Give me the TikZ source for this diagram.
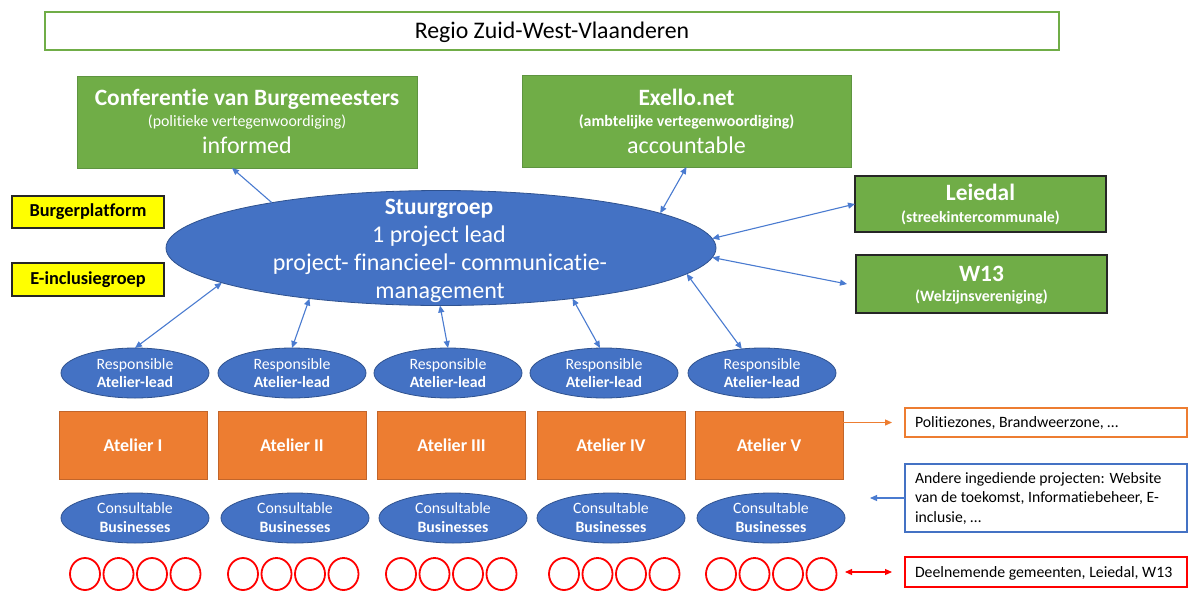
\documentclass[tikz,border=0pt]{standalone}
\usepackage{fontspec}
\setmainfont{Carlito}[Ligatures=NoCommon]
\usetikzlibrary{arrows.meta,shapes.geometric}
\definecolor{ogreen}{HTML}{70AD47}
\definecolor{ogreenD}{HTML}{5E9440}
\definecolor{oblue}{HTML}{4472C4}
\definecolor{oblueD}{HTML}{2F528F}
\definecolor{oarrow}{HTML}{4A7BD0}
\definecolor{oorange}{HTML}{ED7D31}
\definecolor{oorangeD}{HTML}{C2652A}
\definecolor{ored}{HTML}{FF0000}
\definecolor{oyellow}{HTML}{FFFF00}
\newcommand{\fsz}[1]{\fontsize{#1}{#1}\selectfont}
\begin{document}
\begin{tikzpicture}[x=1pt,y=-1pt,
  >={Triangle[length=7pt,width=6pt]},
  box/.style={rectangle, inner sep=0pt, outer sep=0pt},
  gbox/.style={box, fill=ogreen, draw=ogreenD, line width=0.8pt},
  dbox/.style={box, fill=ogreen, draw=black!85, line width=1.3pt},
  ybox/.style={box, fill=oyellow, draw=black!85, line width=1.3pt, font=\fsz{18.3}\bfseries},
  abox/.style={box, fill=oorange, draw=oorangeD, line width=0.8pt, minimum width=148pt, minimum height=68pt, text=white, font=\fsz{18}\bfseries},
  ell/.style={ellipse, inner sep=0pt, outer sep=0pt, fill=oblue, draw=oblueD, line width=0.8pt},
  smell/.style={ell, minimum width=148pt, minimum height=50pt},
  rbox/.style={box, fill=white, line width=1.8pt, minimum width=282pt, text=black},
  txt/.style={inner sep=0pt, outer sep=0pt, anchor=base},
  wtxt/.style={txt, text=white},
  circ/.style={ellipse, draw=ored, line width=1.8pt, minimum width=30pt, minimum height=32pt, inner sep=0pt},
  conn/.style={draw=oarrow, line width=1.1pt},
]
\useasboundingbox (0,0) rectangle (1191,592);

% region box
\node[box, draw=ogreen, line width=2pt, fill=white, minimum width=1014pt, minimum height=38pt] (region) at (552,31) {};
\node[txt, font=\fsz{23.8}] (regiont) at (552,38.5) {Regio Zuid-West-Vlaanderen};

% Conferentie
\node[gbox, minimum width=340pt, minimum height=92pt] (cb) at (247,122) {};
\node[wtxt, font=\fsz{23.4}\bfseries] (cbt1) at (247,105) {Conferentie van Burgemeesters};
\node[wtxt, font=\fsz{15.9}] (cbt2) at (247,126) {(politieke vertegenwoordiging)};
\node[wtxt, font=\fsz{24}] (cbt3) at (247,153) {informed};

% Exello
\node[gbox, minimum width=329pt, minimum height=92pt] (ex) at (686.5,121) {};
\node[wtxt, font=\fsz{23.4}\bfseries] (ext1) at (686.5,105) {Exello.net};
\node[wtxt, font=\fsz{15.9}\bfseries] (ext2) at (686.5,126) {(ambtelijke vertegenwoordiging)};
\node[wtxt, font=\fsz{24}] (ext3) at (686.5,153) {accountable};

% Leiedal, W13
\node[dbox, minimum width=251pt, minimum height=56pt] (ld) at (980.5,204) {};
\node[wtxt, font=\fsz{23.4}\bfseries] (ldt1) at (980.5,200) {Leiedal};
\node[wtxt, font=\fsz{15.8}\bfseries] (ldt2) at (980.5,222) {(streekintercommunale)};
\node[dbox, minimum width=251pt, minimum height=58pt] (w13) at (981.5,284) {};
\node[wtxt, font=\fsz{23.4}\bfseries] (w13t1) at (981.5,281) {W13};
\node[wtxt, font=\fsz{15.8}\bfseries] (w13t2) at (981.5,301) {(Welzijnsvereniging)};

% yellow boxes
\node[ybox, minimum width=152pt, minimum height=32pt] (bp) at (88,212) {Burgerplatform};
\node[ybox, minimum width=152pt, minimum height=33pt] (ei) at (88,279.5) {E-inclusiegroep};

% Stuurgroep
\node[ell, minimum width=550pt, minimum height=115pt] (st) at (441,248) {};
\node[wtxt, font=\fsz{23.4}\bfseries] (stt1) at (439,214) {Stuurgroep};
\node[wtxt, font=\fsz{24}] (stt2) at (439,242) {1 project lead};
\node[wtxt, font=\fsz{24}] (stt3) at (440,270) {project- financieel- communicatie-};
\node[wtxt, font=\fsz{24}] (stt4) at (440,298) {management};

% Responsible, Atelier, Consultable
\foreach \i/\rx/\ax/\cx/\nm in {1/135/133/135/I, 2/292/292/295/II, 3/448/451.5/453/III, 4/604/611/611/IV, 5/762/769/771/V} {
  \node[smell] (r\i) at (\rx,373) {};
  \node[wtxt, font=\fsz{15.8}] (r\i t1) at (\rx,369) {Responsible};
  \node[wtxt, font=\fsz{15.8}\bfseries] (r\i t2) at (\rx,387) {Atelier-lead};
  \node[abox] (a\i) at (\ax,445) {Atelier \nm};
  \node[smell] (c\i) at (\cx,518) {};
  \node[wtxt, font=\fsz{15.8}] (c\i t1) at (\cx,513) {Consultable};
  \node[wtxt, font=\fsz{15.8}\bfseries] (c\i t2) at (\cx,532) {Businesses};
}

% red circles
\foreach \g/\xa in {1/85, 2/243, 3/401, 4/564, 5/721} {
  \foreach \k in {0,1,2,3} {
    \node[circ] (o\g\k) at (\xa+33.5*\k,574) {};
  }
}

% right boxes
\node[rbox, draw=oorange, minimum height=29pt] (pol) at (1046,422.5) {};
\node[txt, anchor=base west, font=\fsz{15.8}] (polt) at (915,427.5) {Politiezones, Brandweerzone, \dots};
\node[rbox, draw=oblue, minimum height=68pt] (and) at (1046,498) {};
\node[txt, anchor=north west, font={\fontsize{15.7}{19.5}\selectfont}, align=left] (andt) at (915,472.5) {Andere ingediende projecten: Website\\van de toekomst, Informatiebeheer, E-\\inclusie, \dots};
\node[rbox, draw=ored, minimum height=30pt] (dn) at (1046,572) {};
\node[txt, anchor=base west, font=\fsz{15.8}] (dnt) at (915,577.5) {Deelnemende gemeenten, Leiedal, W13};

% connectors
\draw[conn, ->] (st.165.9) -- ([xshift=-15pt]cb.south);
\draw[conn, <->] (st.9.1) -- (ex.south);
\draw[conn, <->] (st.2.3) -- (ld.west);
\draw[conn, <->] (st.-2.3) -- ([xshift=-9pt]w13.west);
\draw[conn, <->] (st.-171.9) -- (r1.north);
\draw[conn, <->] (st.-159) -- (r2.north);
\draw[conn, <->] (st.-91) -- (r3.north);
\draw[conn, <->] (st.-21) -- ([xshift=-4pt]r4.north);
\draw[conn, <->] (st.-6.2) -- (r5.130);
\draw[draw=oorange, line width=1.3pt, ->] (a5.east |- pol.west) -- ([xshift=-13pt]pol.west);
\coordinate (andtip) at ([xshift=-35pt]and.west);
\draw[conn, ->] (and.west) -- (andtip);
\draw[draw=ored, line width=1.1pt, <->] ([xshift=-60pt]dn.west) -- ([xshift=-13pt]dn.west);
\end{tikzpicture}
\end{document}
